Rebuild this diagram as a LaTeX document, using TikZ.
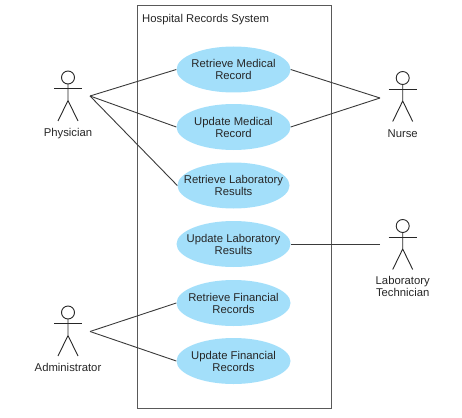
\documentclass[tikz,border=0pt]{standalone}
\usepackage{fontspec}
\setmainfont{Liberation Sans}
\usetikzlibrary{shapes.geometric}
\definecolor{uc}{HTML}{A3DFFA}
\definecolor{ln}{HTML}{3A3A3A}
\tikzset{
  usecase/.style={ellipse,fill=uc,inner sep=0pt,minimum width=114pt,minimum height=46pt},
  lbl/.style={align=center,inner sep=0pt,font=\fontsize{11.3}{12}\selectfont,text=black!85},
  link/.style={draw=ln,line width=0.9pt},
  figure/.style={draw=black!85,line width=0.9pt},
  sysbox/.style={draw=black!65,line width=1pt}
}
\newcommand{\stick}[2]{%
  \begin{scope}[shift={(#1,#2)}]
    \draw[figure] (0,0) circle (6.5);
    \draw[figure] (-14,11) -- (14,11);
    \draw[figure] (0,6.5) -- (0,23) (-10,43.5) -- (0,23) -- (10,43.5);
  \end{scope}}
\begin{document}
\begin{tikzpicture}[x=1pt,y=-1pt]
\useasboundingbox (0,0) rectangle (462,417);
\node[sysbox,minimum width=194pt,minimum height=402pt,inner sep=0pt] (sys) at (234,207) {};
\node[lbl,anchor=west] (title) at (142,20) {Hospital Records System};
\node[usecase,label={[lbl]center:Retrieve Medical\\Record}] (e1) at (233.5,69.5) {};
\node[usecase,label={[lbl]center:Update Medical\\Record}] (e2) at (233.5,127) {};
\node[usecase,minimum width=112pt,label={[lbl]center:Retrieve Laboratory\\Results}] (e3) at (233.5,185.5) {};
\node[usecase,label={[lbl]center:Update Laboratory\\Results}] (e4) at (233.5,244) {};
\node[usecase,label={[lbl]center:Retrieve Financial\\Records}] (e5) at (233.5,303) {};
\node[usecase,label={[lbl]center:Update Financial\\Records}] (e6) at (233.5,361) {};
\stick{68}{77.5}
\stick{402.7}{78}
\stick{68}{312.5}
\stick{402.7}{226}
\node[lbl] (physician) at (68,134) {Physician};
\node[lbl] (nurse) at (402.7,133.5) {Nurse};
\node[lbl] (admin) at (68,367.5) {Administrator};
\node[lbl] (tech) at (402.7,286.5) {Laboratory\\Technician};
\coordinate (pp) at (90,96);
\coordinate (np) at (380,98);
\coordinate (ap) at (90,331.5);
\coordinate (tp) at (380,244);
\draw[link] (pp) -- (e1.west);
\draw[link] (pp) -- (e2.west);
\draw[link] (pp) -- (e3.west);
\draw[link] (np) -- (e1.east);
\draw[link] (np) -- (e2.east);
\draw[link] (tp) -- (e4.east);
\draw[link] (ap) -- (e5.west);
\draw[link] (ap) -- (e6.west);
\end{tikzpicture}
\end{document}
